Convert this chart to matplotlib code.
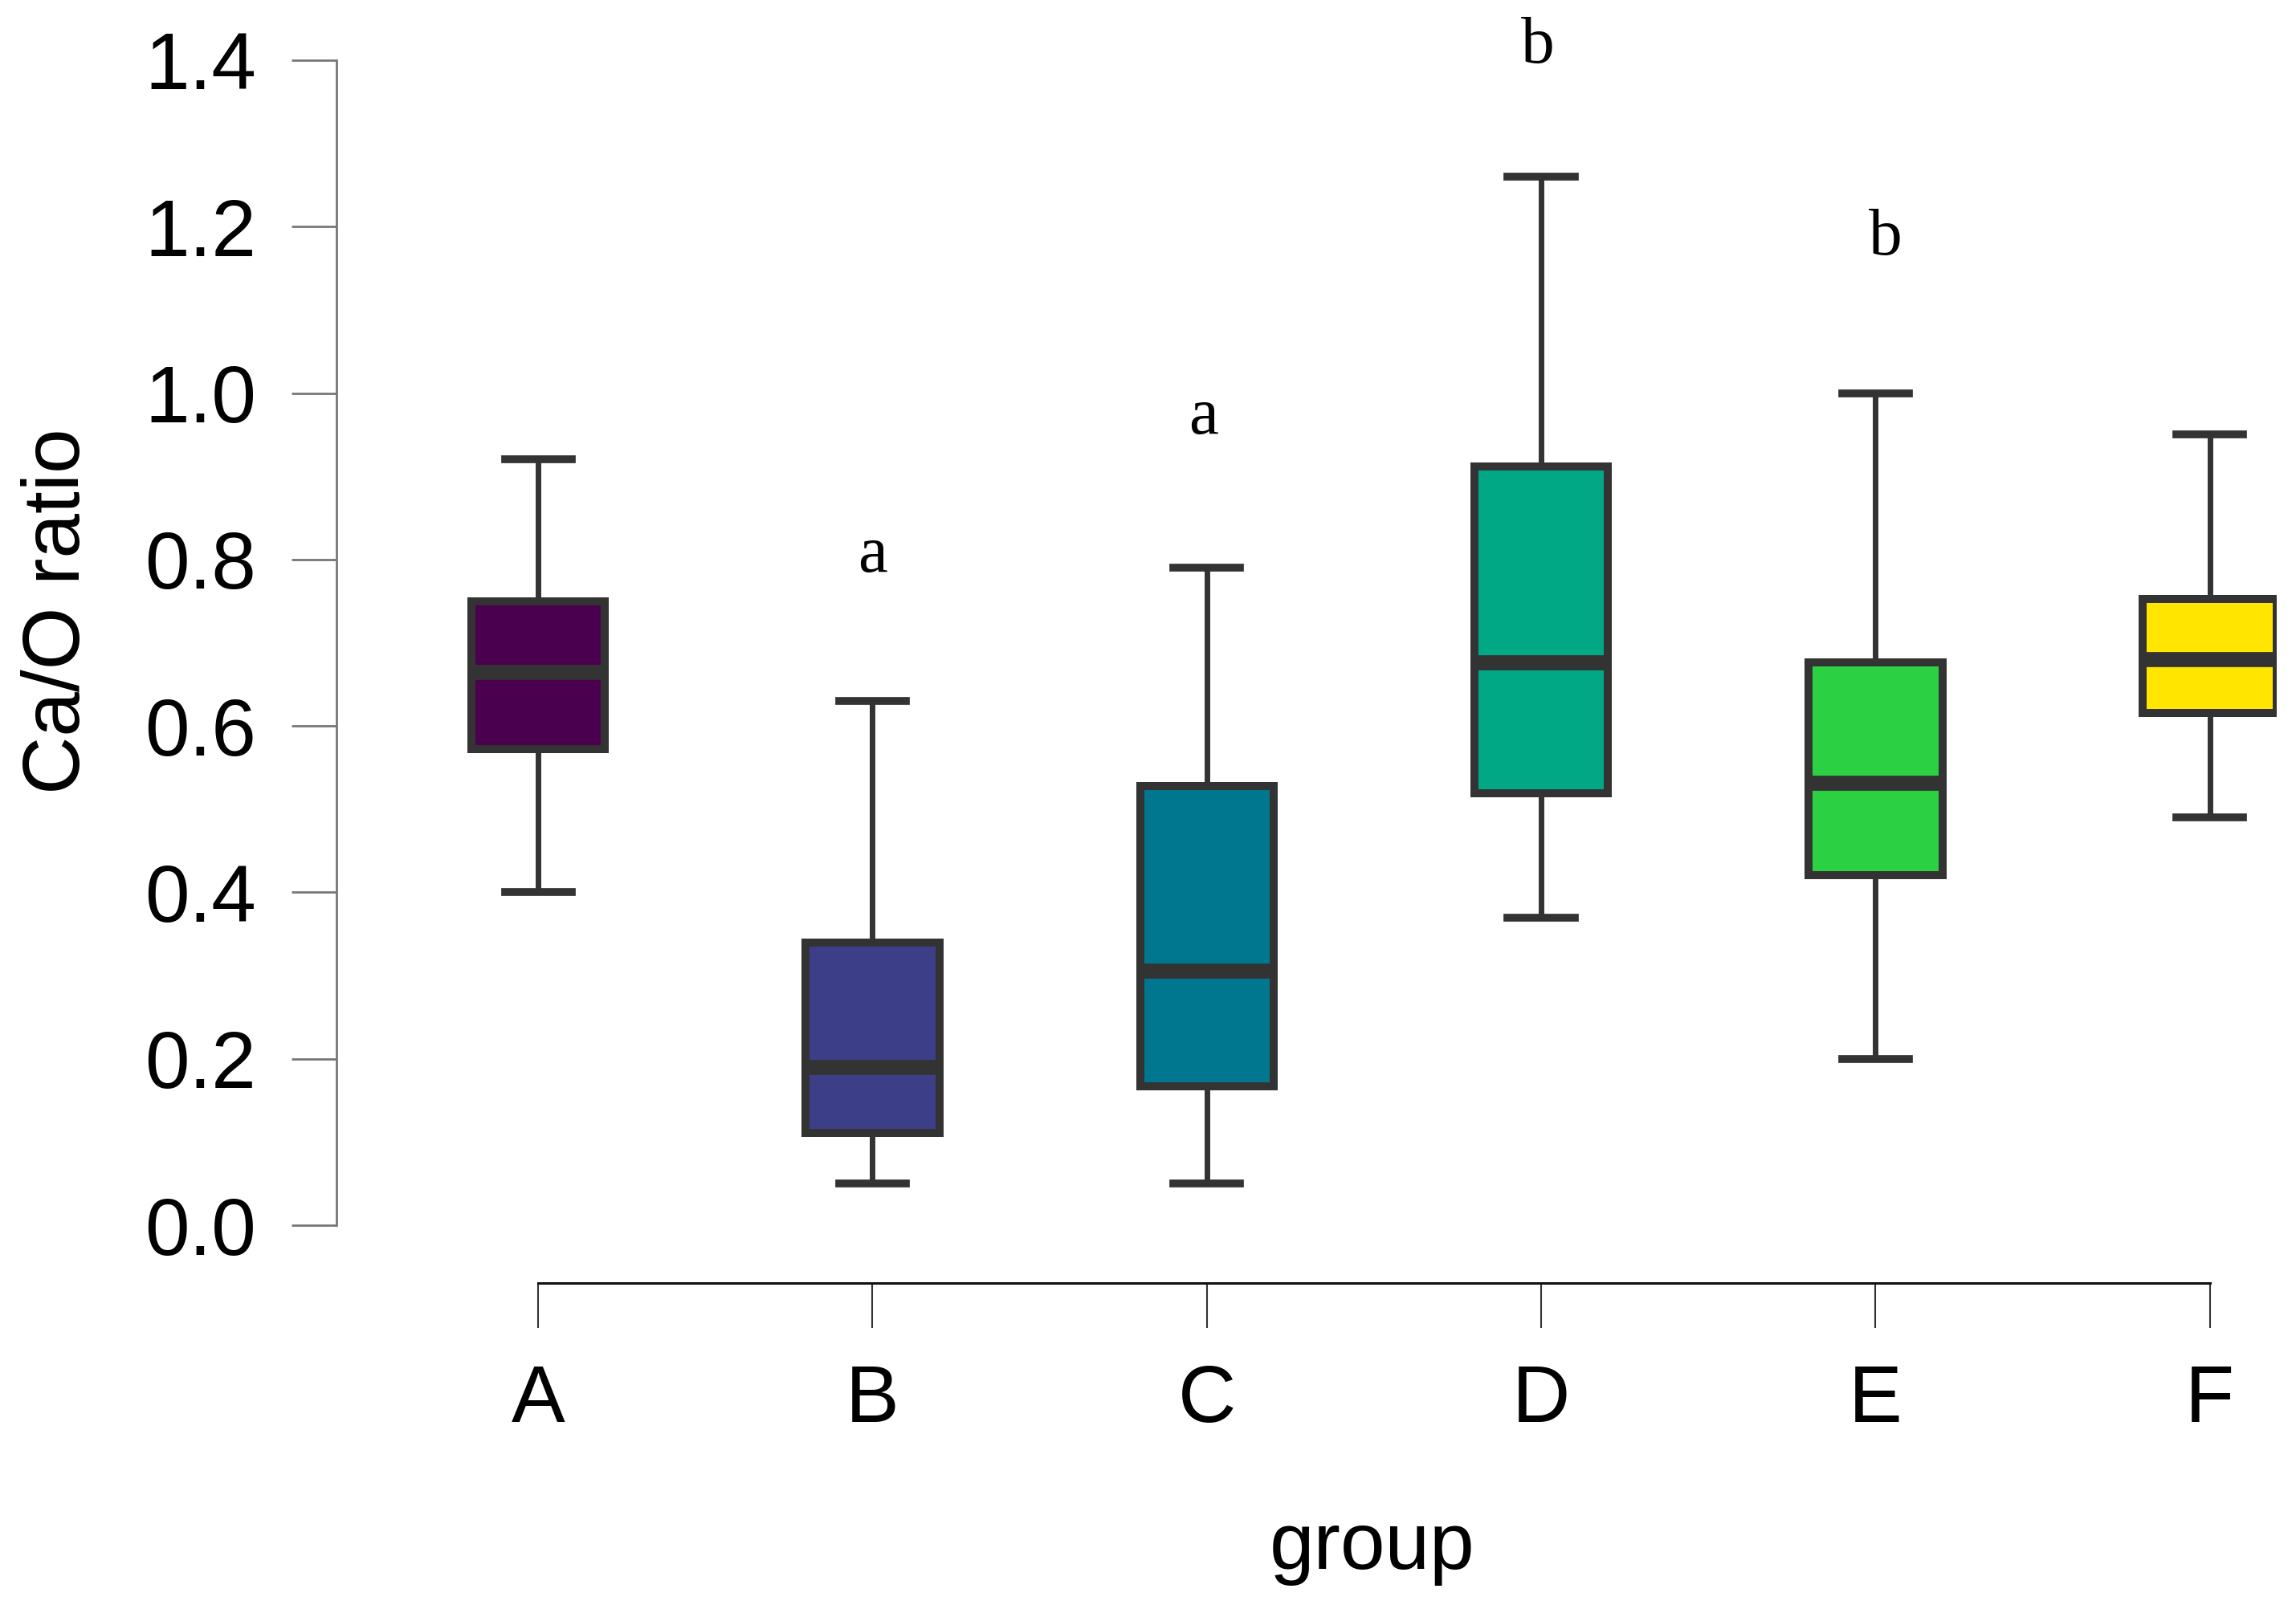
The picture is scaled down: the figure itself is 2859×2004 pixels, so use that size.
import matplotlib
matplotlib.use("Agg")
import matplotlib.pyplot as plt

# values
groups = ['A', 'B', 'C', 'D', 'E', 'F']
whis_lo = [0.40, 0.05, 0.05, 0.37, 0.20, 0.49]
q1 = [0.572, 0.111, 0.167, 0.519, 0.421, 0.616]
median = [0.665, 0.19, 0.306, 0.676, 0.532, 0.68]
q3 = [0.75, 0.34, 0.528, 0.912, 0.676, 0.753]
whis_hi = [0.92, 0.63, 0.79, 1.26, 1.00, 0.95]
colors = ['#4B004F', '#3C3F88', '#00778F', '#00A886', '#2BD142', '#FFE500']

# significance letters
letter_x = [1.0, 1.99, 2.99, 4.03]
letter_y = [0.804, 0.970, 1.416, 1.186]
letters = ['a', 'a', 'b', 'b']

plt.rcParams['font.family'] = ['Liberation Sans', 'DejaVu Sans']

fig = plt.figure(figsize=(28.59, 20.04), dpi=100)
ax = fig.add_axes([0.1466, 0.2385, 0.845, 0.7241])

stats = []
for i, g in enumerate(groups):
    stats.append({'label': g, 'whislo': whis_lo[i], 'q1': q1[i], 'med': median[i],
                  'q3': q3[i], 'whishi': whis_hi[i], 'fliers': []})

edge = '#333333'
bp = ax.bxp(stats, positions=range(len(groups)), widths=0.4, capwidths=0.2,
            patch_artist=True, showfliers=False,
            boxprops=dict(edgecolor=edge, linewidth=7.2),
            whiskerprops=dict(color=edge, linewidth=5),
            capprops=dict(color=edge, linewidth=7),
            medianprops=dict(color=edge, linewidth=13.5, solid_capstyle='butt'))
for patch, c in zip(bp['boxes'], colors):
    patch.set_facecolor(c)

for x, y, t in zip(letter_x, letter_y, letters):
    ax.text(x, y, t, ha='center', va='center', fontsize=60,
            family=['Liberation Serif', 'DejaVu Serif'])

ax.set_xlim(-0.603, 5.2)
ax.set_ylim(0, 1.4)
ax.set_yticks([0.0, 0.2, 0.4, 0.6, 0.8, 1.0, 1.2, 1.4])
ax.set_yticklabels(['0.0', '0.2', '0.4', '0.6', '0.8', '1.0', '1.2', '1.4'])
ax.set_xticks(range(len(groups)))
ax.set_xticklabels(groups)

for s in ['top', 'right']:
    ax.spines[s].set_visible(False)
ax.spines['left'].set_color('#777777')
ax.spines['left'].set_linewidth(2)
ax.spines['left'].set_bounds(0, 1.4)
ax.spines['bottom'].set_position(('outward', 52))
ax.spines['bottom'].set_bounds(0, 5)
ax.spines['bottom'].set_linewidth(2.2)
ax.spines['bottom'].set_color('#111111')

ax.tick_params(axis='y', length=40, width=2, color='#777777', pad=32, labelsize=72)
ax.tick_params(axis='x', length=40, width=1.5, color='#333333', pad=32, labelsize=72)

fig.text(0.0255, 0.62, 'Ca/O ratio', rotation=90, ha='center', va='center', fontsize=72)
fig.text(0.5975, 0.038, 'group', ha='center', va='center', fontsize=72)

fig.savefig('out.png', dpi=100)
